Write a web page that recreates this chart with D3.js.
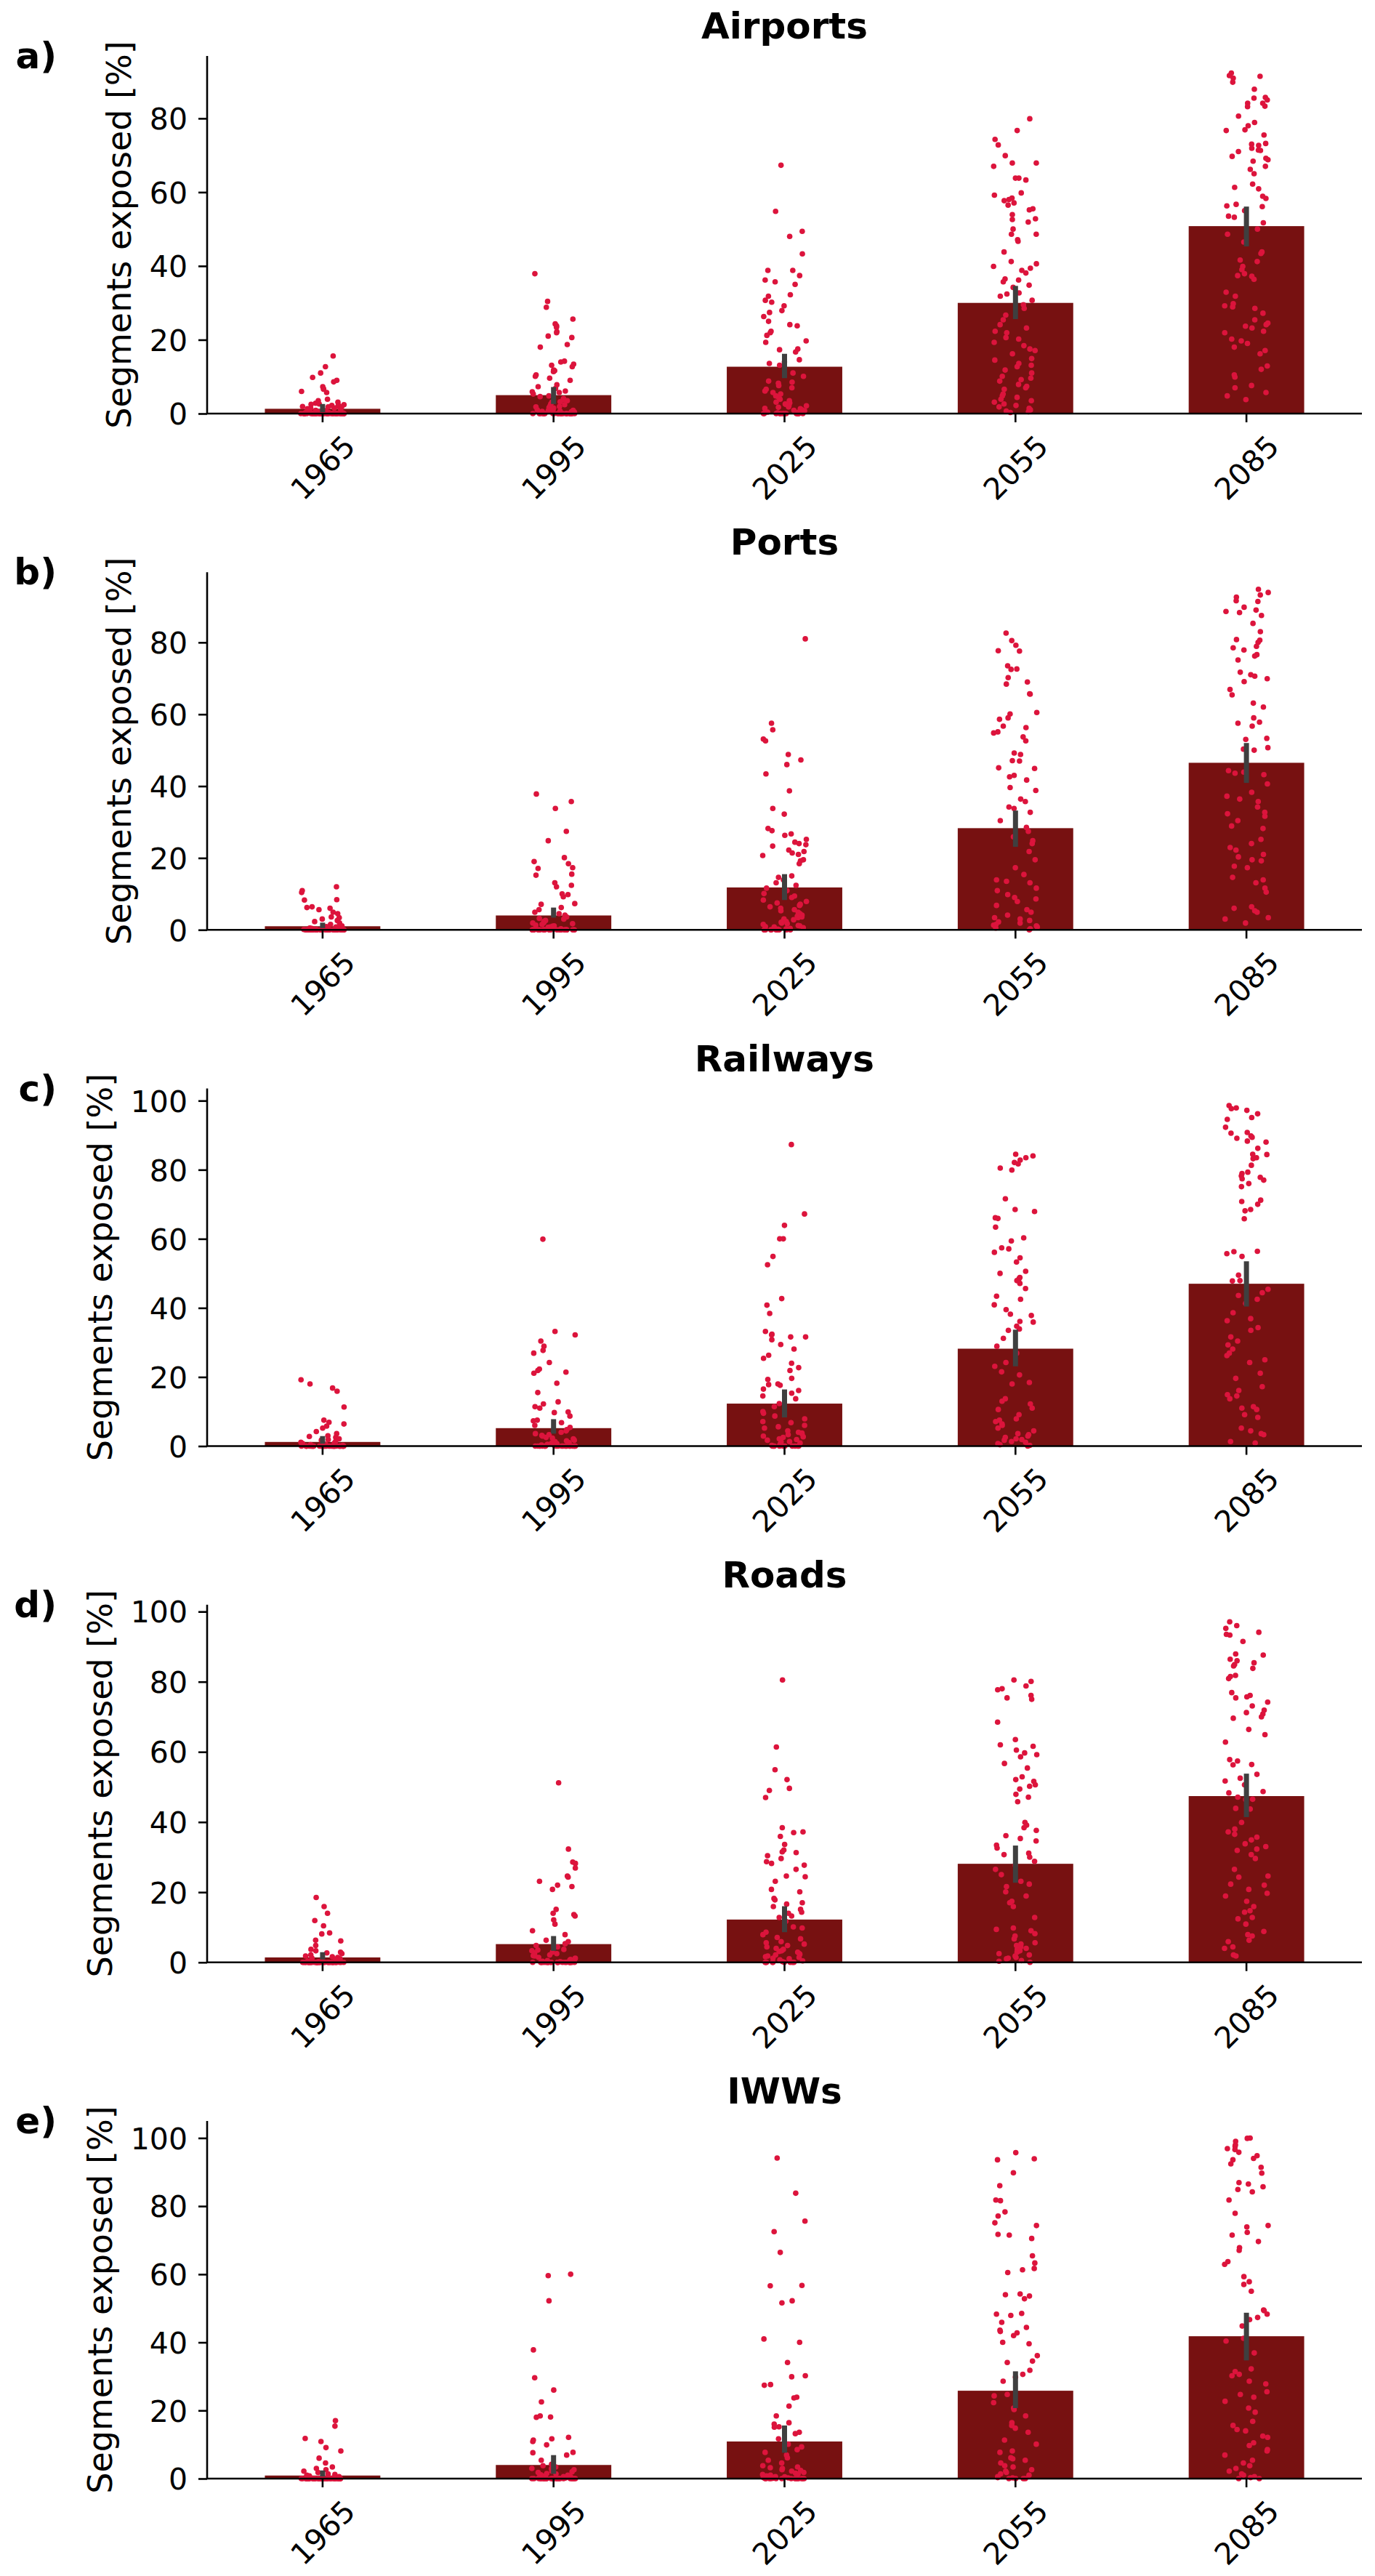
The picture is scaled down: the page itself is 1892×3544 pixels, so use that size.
<!DOCTYPE html>
<html>
<head>
<meta charset="utf-8">
<script src="https://cdn.jsdelivr.net/npm/d3@7"></script>
<style>
  html, body { margin: 0; padding: 0; background: #fff; }
  svg { display: block; }
</style>
</head>
<body>
<script>
// Exposure of transport segments per year, five infrastructure types (bars = mean, dots = regions)
const years = ["1965", "1995", "2025", "2055", "2085"];
const panelNames = ["Airports", "Ports", "Railways", "Roads", "IWWs"];
const panelLetters = ["a)", "b)", "c)", "d)", "e)"];
const yLabel = "Segments exposed [%]";

// bar heights (mean) and error bar ends, one entry per year
const airportsMean = [1.3, 5.0, 12.7, 30.0, 50.8];
const airportsCI = [[0.4, 2.6], [2.6, 7.2], [9.6, 16.2], [25.6, 34.6], [45.3, 56.1]];
const portsMean = [1.0, 4.0, 11.8, 28.3, 46.5];
const portsCI = [[0.5, 2.0], [3.4, 6.2], [8.3, 15.5], [23.1, 33.2], [40.9, 52.0]];
const railwaysMean = [1.2, 5.2, 12.3, 28.2, 47.0];
const railwaysCI = [[0.7, 2.9], [3.6, 7.8], [8.3, 16.4], [23.1, 33.7], [40.4, 53.5]];
const roadsMean = [1.4, 5.2, 12.2, 28.1, 47.4];
const roadsCI = [[0.8, 2.9], [3.3, 7.5], [8.6, 16.0], [22.7, 33.3], [41.4, 53.8]];
const iwwsMean = [0.9, 4.0, 10.9, 25.8, 41.8];
const iwwsCI = [[0.6, 2.4], [1.4, 6.9], [7.6, 15.6], [20.7, 31.5], [34.7, 48.7]];

// individual points (strip), one array per year
const airportsPts = [
  [15.6,12.7,11,9.8,9,8.6,7.3,6.7,6.6,6,5.7,3.9,3.5,3.1,2.8,2.6,2.5,2.4,2.2,2.2,2,1.9,1.8,1.8,1.5,1.5,1.3,1.1,1,0.9,0.8,0.6,0.5,0.4,0.3,0.3,0.2,0.1,0.1,
   0,0,0,0,0,0,0,0,0,0,0,0,0,0,0,0,0,0,0,0,0,0,0,0,0,0,0,0,0,0,0,0,0,0,0,0,0,0,0,0],
  [37.9,30.4,28.8,25.6,24.3,23.8,23.4,22.2,21.9,21,20.6,18.7,18,14.2,14,13.4,13.1,12.7,11.8,11.6,11.4,10.5,10.1,9.6,9,7.8,7.3,6.8,6.1,5.9,5.7,5.3,4.8,4.6,4.1,3.8,3.5,3.1,2.6,2.2,2,1.8,1.5,1.1,0.9,0.6,0.4,
   3.2,2.4,1.9,1.6,1.2,1,0.8,0.7,0.5,0.3,0.2,0.1,0,0,0,0,0,0,0,0,0,0,0,0,0,0,0,0,0,0,0,0,0,0,0,0,0],
  [67.3,54.8,49.4,48,43.3,38.8,38.8,37.4,36.2,35.7,35,32.2,31.8,30.7,30.2,29.2,27.9,27.4,26.3,25,24.1,23.8,22.3,21.9,21.2,19.7,19.3,17.5,17.3,16.7,14.6,14,13.6,13.1,11,10.1,8.8,8.5,8.2,7.6,7,6.6,6.1,5.7,5.3,4.8,4.4,3.9,3.5,3.1,2.6,2.2,1.8,1.3,0.9,0.4,
   2.9,2.5,2.1,1.7,1.4,1,0.8,0.6,0.3,0.2,0.1,0,0,0,0,0,0,0,0,0,0,0,0,0,0],
  [79.9,76.7,74.3,72.8,69.9,67.9,67.9,67,63.8,63.8,63.3,59.8,59.2,58.4,58,57.7,57.1,56.5,55.5,55.2,53.9,52.8,52.6,51.9,50,48.6,48.6,47.1,46.7,43.8,41.2,40.6,39.9,39.4,38.8,38.1,36.5,36.2,35.7,34.8,34.2,32.7,32.4,31.8,30.7,29.5,28.5,26.7,25.4,24.1,23.2,22.3,21.9,20.6,20.2,19.3,18.4,17.5,17.1,16.2,14.9,14.5,13.6,13.1,12.7,11.8,11,10.1,9.6,9.2,8.8,7.9,7.4,7,6.6,5.3,4.8,4.4,3.9,3.5,3.1,2.6,2.2,1.8,1.4,1,0.7,0.5,0.3],
  [92.3,91.6,91.4,90.9,89.8,87.9,85.7,85.5,85,84.1,84.1,83.3,83.2,80.6,78.9,78,76.9,76.7,75.5,73.2,73,72.7,71.9,71.4,71.3,71,69.7,69.2,68.8,68.4,67,66.2,65,62.2,61.3,60.9,58.9,58.3,56.7,56.3,56.1,55,53.5,53.2,51.7,50,48.6,46.5,43.8,43.4,41.6,41.2,39.9,39,37.9,37.4,37.2,36.4,32.9,31.8,29.8,29.2,28.9,28.5,27.2,25.4,24.5,24.1,23.7,23.2,22.3,21.9,20.2,19.7,19,18,17.1,16.2,12.9,12,10.5,9.9,7.6,7,5.7,4.8,3.8]
];
const portsPts = [
  [12,10.9,10.4,8.4,8.3,6.4,6.2,6,5.6,4.9,4.5,3.6,3.4,3,2.6,2.3,1.9,1.5,1.1,0.9,0.6,0.5,0.3,0.2,0.1,1.2,0.8,0.7,0.4,0.2,
   0,0,0,0,0,0,0,0,0,0,0,0,0,0,0,0,0,0,0,0,0,0,0,0,0,0,0,0,0,0,0,0,0,0,0,0,0,0,0,0],
  [37.8,35.7,33.8,27.4,24.8,20.1,19,18.4,17.3,17.1,15.5,15.2,13.1,12.4,12,10,9.8,9.2,7.3,7.1,6.2,5.6,4.9,4.5,4.1,3.6,3.2,2.6,2.3,1.9,1.5,1.1,0.8,0.4,
   3,2,1.7,1.3,1,0.7,0.5,0.3,0.2,0.1,0,0,0,0,0,0,0,0,0,0,0,0,0,0,0,0,0,0,0,0,0,0,0,0,0,0],
  [81,57.5,55.7,53.1,52.6,48.8,47.3,46,43.4,38.7,33.8,32.2,28.2,27.6,26.7,26.3,25.2,24.4,24,23.7,23.3,22.2,21.8,21.4,21,20.7,19.5,19.2,18.4,15,14.6,13.9,13.1,12.4,11.6,10.9,10.1,9.4,9,8.3,7.9,7.5,7.1,6.8,6.4,6,5.6,5.3,4.9,4.5,4.1,3.8,3.4,3,2.6,2.3,1.9,1.5,1.1,0.8,0.4,
   3.6,2.8,2.1,1.7,1.2,0.9,0.6,0.3,0.2,0,0,0,0,0,0,0,0,0,0],
  [82.6,80.5,79.2,77.7,77.6,73.5,72.6,72.5,70.2,69,68.4,65.7,65.6,60.5,60.1,59,58.6,56.7,56.3,55.1,54.8,53.7,52.6,49.2,48.8,47.1,47,45.1,44.9,43,42.6,41.7,39.6,38.8,36.4,35.7,34.2,33.8,32.7,30.4,28.5,27.4,25.9,24.8,24,21.8,19.5,17.3,15.4,13.9,13.5,13.1,11.6,10.9,9.8,9,8.6,7.9,6.8,5.6,4.9,4.1,3.4,3,2.6,1.9,1.5,1.1,0.8,2.2,1.3,0.5,0.3,0],
  [94.8,93.9,93.2,92.6,91.6,91.4,89.8,89,88.6,88.3,87.5,85.3,83,80.8,80.6,80,78.9,78.5,77.9,76.6,76.2,75.1,71.7,71,70.6,69.9,69.1,66.9,65.4,63.1,62,59,57.8,57.5,56.7,53.3,53,50.7,50.3,50,44.3,43.9,43.6,43.2,40.6,38.3,37.2,36.4,35.7,34.2,32.7,32.3,31.6,30.4,28.9,28.2,25.2,24,22.9,22.2,21,20.3,19.5,19.2,17.7,17.3,14.6,13.9,13.1,11.6,10.5,6.4,6,5.3,4.9,3.4,3,1.9]
];
const railwaysPts = [
  [19.2,18,16.8,15.9,11.3,7.5,6.9,6.4,5.8,5.2,4.2,3.6,3,2.5,2.1,1.7,1.3,0.9,0.5,2.8,1.9,1.1,0.7,0.4,0.2,0.1,
   0,0,0,0,0,0,0,0,0,0,0,0,0,0,0,0,0,0,0,0,0,0,0,0,0,0,0,0,0,0,0,0,0,0,0,0,0,0,0,0],
  [59.9,33.2,32.2,30.4,28.9,27.7,26.9,24.2,22.3,21.9,21.4,21.1,18.2,15.5,12.8,12.2,11.4,11,9.9,9.7,8.7,7.5,7.3,6.8,6,5.4,4.8,4.4,4,3.6,3.3,2.9,2.5,2.1,1.7,1.3,0.9,0.5,
   3.1,2.3,1.5,1,0.7,0.3,0.2,0.1,0,0,0,0,0,0,0,0,0,0,0,0,0,0,0,0,0,0,0,0,0,0],
  [87.3,67.2,63.9,60,60,54.9,52.5,42.7,40.8,38.4,33.2,32.4,32.2,31.6,31.6,30.8,29.4,28.1,26.3,25.4,24,22.7,21.9,19.6,19.3,18,17.8,17.6,16.5,16.1,15.3,14.5,13.7,12.3,11.4,10,9.5,8.7,7.9,7.1,6.8,6,5.6,5.2,4.4,4,3.6,3.3,2.9,2.5,2.1,1.7,1.3,0.9,
   3.8,2.7,1.9,1.2,0.6,0.3,0.2,0,0,0,0,0,0,0,0,0,0],
  [84.5,84,83.5,82.8,82.1,81.7,80.5,79.9,71.6,68.5,67.9,66.1,65.9,63.4,60.3,59.4,57.4,57.1,56.1,54.5,53.3,50.6,50,48.8,48.5,47.9,47.1,45.6,43.4,42.5,40.9,39.5,38.2,37.8,36.1,35.9,34.7,33.9,33.5,31.2,28.9,26.9,24.2,23.1,21.5,20.6,18.4,18,13.7,13,12.2,11,10.6,9.1,7.9,7.5,7.1,6.4,6,5.2,4.4,3.6,3.3,2.9,2.5,2.1,1.7,1.3,0.7,1.9,1.1,0.4,0.2,0],
  [98.6,97.9,97.7,97.2,96.2,95.1,94.6,92.3,90.8,90.6,89.8,89.4,89.1,88.3,88,86.2,84.5,84.4,83.5,83.2,81.3,79.3,78.9,78.2,77.8,77.4,77,76,75.1,71.2,70.8,70,68.5,68.1,65.8,56.4,56.3,55.7,54.9,49.5,47.9,47.8,45.4,44.4,43.6,42.5,41.3,38.6,36.9,36.3,34.3,33.5,31.6,30.4,29.3,28.1,26.9,26.2,25,24.2,21.1,19.6,17.2,16.1,14.9,14.5,13.7,11.4,11,10.6,9.1,8.3,5.2,4.4,3.6,3.3,1.3,0.9]
];
const roadsPts = [
  [18.5,15.9,14,11.9,10.4,8.4,8.1,6.3,6.1,4.8,3.7,3.3,2.9,2.5,2.1,1.8,1.4,1,0.6,2.7,1.6,1.2,0.8,0.4,0.2,0.1,
   0,0,0,0,0,0,0,0,0,0,0,0,0,0,0,0,0,0,0,0,0,0,0,0,0,0,0,0,0,0,0,0,0,0,0,0,0,0,0,0],
  [51.2,32.3,28.6,28.2,26.9,24.6,24.3,23.1,22,21.6,20.8,15.1,14,13.6,13.2,12.1,10.9,9,7.9,6.3,5.9,5.3,4.8,4.4,3.7,3.3,2.9,2.5,2.1,1.8,1.4,1,0.6,
   3.5,2.7,1.9,1.2,0.8,0.5,0.3,0.2,0.1,0,0,0,0,0,0,0,0,0,0,0,0,0,0,0,0,0,0,0,0,0,0,0],
  [80.5,61.4,54.9,52.1,49.6,49,47,38.4,37.2,37,35.9,33.6,32,31.5,31.3,30.4,29.6,28.7,28.2,27.7,26.5,24.6,24.4,23.1,20.8,20.1,18.2,17.8,17,16.6,15.9,15.1,14.3,14,13.2,12.8,11.7,10.1,9.8,8.6,7.9,7.1,6.7,5.9,5.6,5.2,4.8,4.4,4,3.7,3.3,2.9,2.5,2.1,1.8,1.4,1,
   3.1,2.3,1.6,1.2,0.7,0.4,0.2,0,0,0,0,0,0,0,0,0],
  [80.5,80.1,78.8,78,77.7,76.1,75.4,75,68.5,63.5,62,61.6,60.5,59.7,59.2,58.6,56.7,55.4,52.9,52.1,51.6,50.6,50.2,49.4,47.9,47.1,45.8,39.9,39.1,38.4,37.6,36.1,35.3,34.6,33.4,32.6,31.1,30.7,30,28.8,27.7,26.5,25,23.1,22.3,21.6,20.1,18.9,17.4,17,15.9,12.8,9.8,9.4,9,8.2,7.5,6.7,5.6,5.2,4.8,4.4,4,3.7,3.3,2.5,2.1,1.8,1.4,1,0.5,2.9,1.2,0.3,0],
  [97.1,96,95.2,94.1,93.5,93.3,91.5,87.9,87.6,86.4,86,85.4,84.9,84.5,83.8,81.8,81.5,80.9,76.9,76.1,75.7,75.4,74.2,73.1,71.9,71.2,70.8,70,69.6,66.4,64.9,62.8,57.8,57.4,56.4,56.3,53.6,52.5,51.7,50.6,48.7,48.3,47.1,46.5,46.4,43.9,43.7,39.9,38,37.2,36.5,35.7,34.9,33.8,33,32.3,31.9,30.7,29.6,26.5,24.6,24.3,22.3,22,20.8,19.7,18.9,17.4,15.9,14.7,14.3,12.8,12.4,10.9,8.8,7.9,7.5,6.3,5.9,4.4,4,2.1,1.8]
];
const iwwsPts = [
  [17,15.4,11.8,10.9,9.1,8.1,6,4.6,3.4,3,2.6,2.2,1.8,1.4,1,0.6,1.2,0.8,0.4,0.2,0.1,
   0,0,0,0,0,0,0,0,0,0,0,0,0,0,0,0,0,0,0,0,0,0,0,0,0,0,0,0,0,0,0,0,0,0,0,0,0,0,0,0],
  [60,59.6,52.2,37.8,29.6,26,22.5,18.4,18.1,18,12.1,11.7,11.3,10.9,9.9,7.7,7.6,6.9,5.4,3.8,3.4,3,2.6,2.2,1.8,1.4,1,0.6,
   4.2,2.9,2,1.5,1.1,0.8,0.5,0.3,0.2,0.1,0,0,0,0,0,0,0,0,0,0,0,0,0,0,0,0,0,0,0,0,0,0,0,0,0],
  [94.1,83.8,75.6,72.5,66.4,56.7,56.6,52.2,51.6,41,40,34.1,30.2,29.9,27.6,27.4,23.9,23.7,21.3,18.4,16.4,16,15.2,15.1,13.6,13.2,11.7,10.1,9.3,8.5,7.7,6.9,6.1,5.4,4.6,3.8,3.4,3,2.6,2.2,1.8,1.4,1,0.6,
   3.2,2.4,1.6,1.2,0.8,0.5,0.3,0.2,0.1,0,0,0,0,0,0,0,0,0,0,0,0,0,0],
  [95.7,93.9,93.6,89.8,86,81.8,81.6,78.3,77.1,75.1,74.3,71.7,71.5,70.5,65.4,63.3,61.7,61.3,60.5,54.2,54,53.6,52.8,48.5,48.3,47.9,45.9,44.4,43.6,43.2,42.8,42,40,39.6,36.1,34.5,34.1,31.8,30.6,29.8,28.6,24.7,24.3,22.3,20.7,20.3,18.4,16.4,15.6,14.8,13.6,11.3,10.1,8.1,7.7,6.1,5.8,5.4,4.6,3.8,3.4,2.6,2.2,1.8,1.4,1,0.6,0.3,0.2,0,0,0,0],
  [100,99.9,99,98,97.6,96.9,96.6,95.8,94.8,94,93.6,92.4,91.4,89.7,86.9,86.5,85.7,84.9,84.2,81.8,77.9,74.3,73.9,72.3,71.5,69.6,67.8,67,63.7,62.9,59.3,57.8,57,55,49.5,49.3,48.3,47.3,46.7,44.8,41.2,40.4,36.9,32.2,31.4,30.6,30.2,28.6,27.8,25.5,24.7,23.9,22.7,20.7,19.5,16.8,15.6,14.4,14,12.5,12.1,10.5,9.7,8.5,8.1,6.9,5.4,4.6,3.8,3,2.2,1.4,1,0.6,0.3,0,0]
];

const panelMeans = [airportsMean, portsMean, railwaysMean, roadsMean, iwwsMean];
const panelCIs = [airportsCI, portsCI, railwaysCI, roadsCI, iwwsCI];
const panelPts = [airportsPts, portsPts, railwaysPts, roadsPts, iwwsPts];

// ── layout ──
const W = 1892, H = 3544;
const AX0 = 285, AX1 = 1874;          // axes left / right
const BASE0 = 569, PSTEP = 710.25;    // first baseline, panel spacing
const AH = 492;                       // axes height
const FONT = "'DejaVu Sans', sans-serif";
const BAR = "#771111", DOT = "#dc143c", ERR = "#3f3f3f";

const svg = d3.select("body").append("svg")
  .attr("width", W).attr("height", H)
  .attr("viewBox", `0 0 ${W} ${H}`);
svg.append("rect").attr("width", W).attr("height", H).attr("fill", "#fff");

const x = d3.scaleBand().domain(years).range([AX0, AX1]).paddingInner(0).paddingOuter(0);
const bw = x.bandwidth() * 0.5;

// deterministic hash jitter in [-1, 1] (position only, not data)
const jit = (k, c) => {
  const s = Math.sin((k + 1) * 12.9898 + (c + 1) * 78.233) * 43758.5453;
  return (s - Math.floor(s)) * 2 - 1;
};

panelNames.forEach((name, p) => {
  const base = BASE0 + p * PSTEP, top = base - AH;
  const pts = panelPts[p], means = panelMeans[p], cis = panelCIs[p];
  const ymax = d3.max(pts.flat()) * 1.05;   // 5% headroom above the highest point
  const y = d3.scaleLinear().domain([0, ymax]).range([base, top]);
  const g = svg.append("g");

  // bars
  g.selectAll("rect.bar").data(means).join("rect")
    .attr("x", (d, i) => x(years[i]) + (x.bandwidth() - bw) / 2)
    .attr("width", bw)
    .attr("y", d => y(d))
    .attr("height", d => base - y(d))
    .attr("fill", BAR);

  // strip points
  pts.forEach((arr, i) => {
    const cx = x(years[i]) + x.bandwidth() / 2;
    g.append("g").selectAll("circle").data(arr).join("circle")
      .attr("cx", (d, k) => cx + jit(k, i + p * 5) * x.bandwidth() * 0.095)
      .attr("cy", d => y(d))
      .attr("r", 3.8)
      .attr("fill", DOT);
  });

  // error bars
  g.selectAll("line.err").data(cis).join("line")
    .attr("x1", (d, i) => x(years[i]) + x.bandwidth() / 2)
    .attr("x2", (d, i) => x(years[i]) + x.bandwidth() / 2)
    .attr("y1", d => y(d[0])).attr("y2", d => y(d[1]))
    .attr("stroke", ERR).attr("stroke-width", 7);

  // y axis
  const yticks = d3.range(0, ymax + 1e-9, 20);
  const ya = g.append("g").attr("transform", `translate(${AX0},0)`)
    .call(d3.axisLeft(y).tickValues(yticks).tickFormat(d3.format("d")).tickSize(12).tickPadding(15));
  ya.select(".domain").attr("d", `M0,${top}V${base}`).attr("stroke", "#000").attr("stroke-width", 2.6);
  ya.selectAll(".tick line").attr("stroke", "#000").attr("stroke-width", 2.6);
  ya.selectAll(".tick text").attr("fill", "#000")
    .attr("style", `font:41px ${FONT}`).attr("dy", "0.36em");

  // x axis
  const xa = g.append("g").attr("transform", `translate(0,${base})`)
    .call(d3.axisBottom(x).tickSize(12).tickPadding(0));
  xa.select(".domain").attr("d", `M${AX0},0H${AX1}`).attr("stroke", "#000").attr("stroke-width", 2.6);
  xa.selectAll(".tick line").attr("stroke", "#000").attr("stroke-width", 2.6);
  xa.selectAll(".tick text").attr("fill", "#000")
    .attr("style", `font:41px ${FONT}`)
    .attr("text-anchor", "middle")
    .attr("y", null).attr("dy", "0.36em")
    .attr("transform", "translate(0,74) rotate(-45)");

  // y label, placed left of the widest tick label
  let tickLeft = AX0;
  ya.selectAll(".tick text").each(function () {
    const bb = this.getBoundingClientRect();
    tickLeft = Math.min(tickLeft, bb.left + window.scrollX);
  });
  g.append("text")
    .attr("transform", `translate(${tickLeft - 26},${(top + base) / 2}) rotate(-90)`)
    .attr("text-anchor", "middle")
    .attr("style", `font:46px ${FONT};fill:#000`)
    .text(yLabel);

  // title and panel letter
  g.append("text")
    .attr("x", (AX0 + AX1) / 2).attr("y", top - 24)
    .attr("text-anchor", "middle")
    .attr("style", `font:bold 50px ${FONT};fill:#000`)
    .text(name);
  g.append("text")
    .attr("x", 78).attr("y", top + 17)
    .attr("text-anchor", "end")
    .attr("style", `font:bold 50px ${FONT};fill:#000`)
    .text(panelLetters[p]);
});
</script>
</body>
</html>
